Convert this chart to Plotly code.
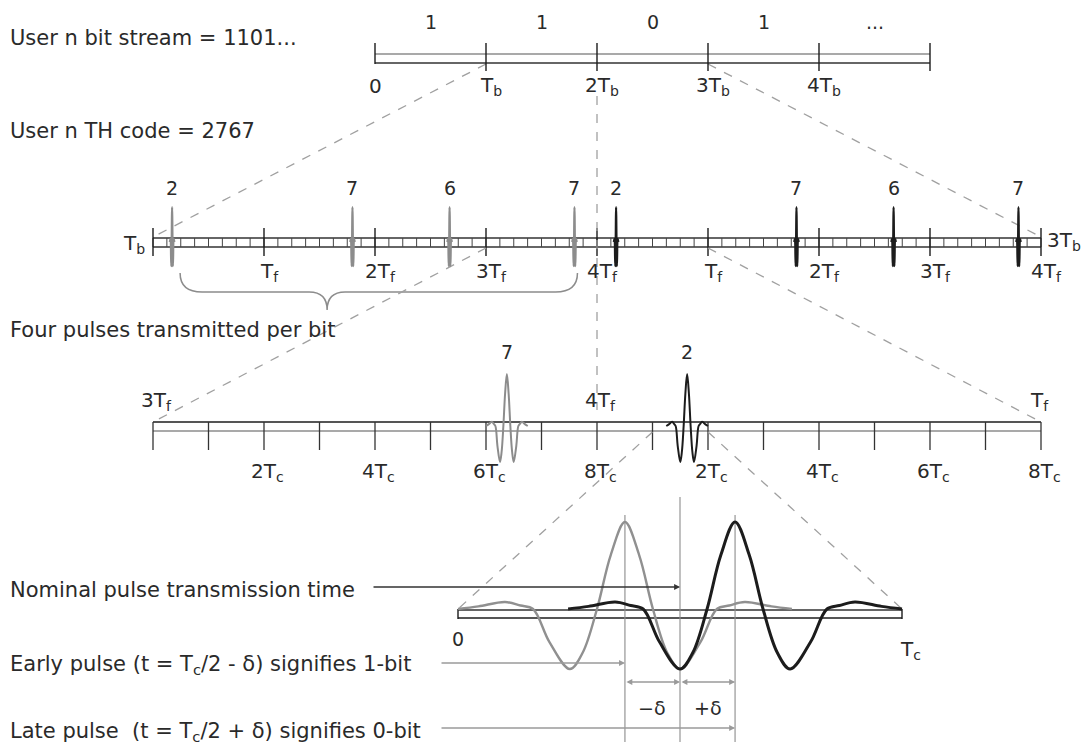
import plotly.graph_objects as go

W, H = 1088, 747

# ---------------- data ----------------
bit_stream = [1, 1, 0, 1]
bit_labels = ["1", "1", "0", "1", "..."]
bit_ticks = ["0", "T<sub>b</sub>", "2T<sub>b</sub>", "3T<sub>b</sub>", "4T<sub>b</sub>"]
th_code = [2, 7, 6, 7]
frame_ticks = ["T<sub>f</sub>", "2T<sub>f</sub>", "3T<sub>f</sub>", "4T<sub>f</sub>"]
chip_ticks = ["2T<sub>c</sub>", "4T<sub>c</sub>", "6T<sub>c</sub>", "8T<sub>c</sub>"]
zoom_frame_labels = ["3T<sub>f</sub>", "4T<sub>f</sub>", "T<sub>f</sub>"]
zoom_codes = [7, 2]        # pulses shown in the two-frame zoom
zoom_shift = [-1, 1]       # early (-delta) / late (+delta)
delta = 0.124              # PPM shift, in Tc
# pulse waveform: time (Tc) relative to peak, amplitude (peak = 1)
pulse_t = [-0.376, -0.33, -0.27, -0.235, -0.207, -0.17, -0.124, -0.095, -0.063, -0.032, 0.0,
           0.032, 0.063, 0.095, 0.124, 0.17, 0.207, 0.235, 0.27, 0.33, 0.376]
pulse_a = [0.0, 0.03, 0.08, 0.04, 0.0, -0.38, -0.69, -0.5, 0.0, 0.62, 1.0,
           0.62, 0.0, -0.5, -0.69, -0.38, 0.0, 0.04, 0.08, 0.03, 0.0]
frames_per_bit = 4
chips_per_frame = 8
n_bits_zoom = 2

txt_bits = "User n bit stream = " + "".join(str(b) for b in bit_stream) + "..."
txt_th = "User n TH code = " + "".join(str(c) for c in th_code)
txt_four = "Four pulses transmitted per bit"
txt_nominal = "Nominal pulse transmission time"
txt_early = "Early pulse (t = T<sub>c</sub>/2 - δ) signifies 1-bit"
txt_late = "Late pulse\u00a0 (t = T<sub>c</sub>/2 + δ) signifies 0-bit"

# ---------------- scales (pixel of value 0, pixels per unit) ----------------
AX = {"x": (375.0, 111.0),    # bit row, Tb units
      "x2": (153.0, 111.0),   # frame row, Tf units
      "x3": (153.0, 55.5),    # chip row, Tc units
      "x4": (458.0, 444.0)}   # single chip, Tc units
AY = {"y2": (242.0, 35.0), "y3": (426.0, 52.0), "y4": (609.0, 87.0)}


def px(ax, v):
    p0, s = AX[ax]
    return p0 + s * v


def val(ax, p):
    p0, s = AX[ax]
    return (p - p0) / s


TXT = "#2a2a2a"
GRAY = "#8c8c8c"
DARK = "#1c1c1c"
DASH = "#a0a0a0"
FONT = "DejaVu Sans"

fig = go.Figure()
shapes = []
anns = []


def line(x0, y0, x1, y1, xref="paper", color=DARK, width=1.3, dash="solid"):
    shapes.append(dict(type="line", xref=xref, yref="y", x0=x0, y0=y0, x1=x1, y1=y1,
                       line=dict(color=color, width=width, dash=dash), layer="below"))


def text(x, y, s, xref="paper", size=20, xanchor="center", xshift=0, color=TXT):
    anns.append(dict(x=x, y=y, xref=xref, yref="y", text=s, showarrow=False,
                     xanchor=xanchor, yanchor="middle", xshift=xshift,
                     font=dict(family=FONT, size=size, color=color)))


def pulse(xaxis, yaxis, center, tscale, color, width):
    xs = [center + t * tscale for t in pulse_t]
    fig.add_trace(go.Scatter(x=xs, y=pulse_a, xaxis=xaxis, yaxis=yaxis, mode="lines",
                             line=dict(color=color, width=width, shape="spline", smoothing=1.0),
                             hoverinfo="skip", showlegend=False))


# ---------------- left-hand texts ----------------
text(8 / W, 38, txt_bits, size=21, xanchor="left")
text(8 / W, 131, txt_th, size=21, xanchor="left")
text(8 / W, 330, txt_four, size=21, xanchor="left")
text(8 / W, 590, txt_nominal, size=21, xanchor="left")
text(8 / W, 665, txt_early, size=21, xanchor="left")
text(8 / W, 732, txt_late, size=21, xanchor="left")

# ---------------- row A: bit stream ----------------
nA = len(bit_labels)
line(0, 54, nA, 54, xref="x", color=GRAY, width=1.5)
line(0, 63, nA, 63, xref="x", color="#333333", width=1.5)
for k in range(nA + 1):
    line(k, 43, k, 64 if k == 0 else 71, xref="x", color=DARK, width=1.4)
for k, lab in enumerate(bit_labels):
    text(k + 0.5, 22, lab, xref="x", size=19)
for k, lab in enumerate(bit_ticks):
    text(k, 86, lab, xref="x", size=20, xshift=0 if k == 0 else 5)

# ---------------- row B: frames and chips of two bits ----------------
nF = frames_per_bit * n_bits_zoom
line(0, 238, nF, 238, xref="x2", color="#333333", width=1.3)
line(0, 247, nF, 247, xref="x2", color="#333333", width=1.3)
for c in range(nF * chips_per_frame + 1):
    line(c / chips_per_frame, 238, c / chips_per_frame, 247, xref="x2", color="#444444", width=1)
for f in range(nF + 1):
    line(f, 228, f, 256, xref="x2", color=DARK, width=1.4)
for f in range(1, nF + 1):
    text(f, 272, frame_ticks[(f - 1) % frames_per_bit], xref="x2", size=20, xshift=5)
text(147 / W, 244, "T<sub>b</sub>", size=20, xanchor="right")
text(1045 / W, 241, "3T<sub>b</sub>", size=20, xanchor="left")

for b in range(n_bits_zoom):
    sh = -1 if bit_stream[b] == 1 else 1
    col = GRAY if b == 0 else DARK
    for j, code in enumerate(th_code):
        f = b * frames_per_bit + j
        center = f + (code - 1 + 0.5 + sh * delta) / chips_per_frame
        pulse("x2", "y2", center, 0.45 / chips_per_frame, col, 2.2)
        text(center, 188, str(code), xref="x2", size=19)

# brace under the four pulses of the first bit
bL = px("x2", 0 + (th_code[0] - 0.5 - delta) / chips_per_frame) + 8
bR = px("x2", 3 + (th_code[3] - 0.5 - delta) / chips_per_frame) + 3
bM = bL + 0.37 * (bR - bL)
shapes.append(dict(type="path", xref="paper", yref="y", layer="below",
                   path=(f"M {bL/W},273 Q {bL/W},292 {(bL+22)/W},292 L {(bM-18)/W},292 "
                         f"Q {bM/W},292 {bM/W},310 Q {bM/W},292 {(bM+18)/W},292 "
                         f"L {(bR-22)/W},292 Q {bR/W},292 {bR/W},273"),
                   line=dict(color=GRAY, width=1.5)))

# ---------------- row C: two frames in chips ----------------
nC = 2 * chips_per_frame
line(0, 422, nC, 422, xref="x3", color=DARK, width=1.4)
line(0, 431, nC, 431, xref="x3", color=GRAY, width=1.5)
for c in range(nC + 1):
    line(c, 422, c, 450, xref="x3", color="#333333", width=1.3)
for c in range(2, nC + 1, 2):
    text(c, 472, chip_ticks[(c // 2 - 1) % 4], xref="x3", size=20, xshift=3)
for i, lab in enumerate(zoom_frame_labels):
    text(i * chips_per_frame, 401, lab, xref="x3", size=20, xshift=3 if i < 2 else -2)
for i, (code, sh) in enumerate(zip(zoom_codes, zoom_shift)):
    center = i * chips_per_frame + code - 1 + 0.5 + sh * delta
    pulse("x3", "y3", center, 1.0, GRAY if i == 0 else DARK, 2.0)
    text(center, 352, str(code), xref="x3", size=19)

# ---------------- row D: one chip ----------------
line(0, 610, 1, 610, xref="x4", color="#333333", width=1.4)
line(0, 618, 1, 618, xref="x4", color=DARK, width=1.4)
line(0, 609, 0, 619, xref="x4", color=DARK, width=1.4)
line(1, 609, 1, 619, xref="x4", color=DARK, width=1.4)
text(0, 639, "0", xref="x4", size=19)
text(1, 650, "T<sub>c</sub>", xref="x4", size=20, xshift=8)

line(0.5, 497, 0.5, 742, xref="x4", color=GRAY, width=1.1)
line(0.5 - delta, 515, 0.5 - delta, 742, xref="x4", color=GRAY, width=1.1)
line(0.5 + delta, 515, 0.5 + delta, 742, xref="x4", color=GRAY, width=1.1)

pulse("x4", "y4", 0.5 - delta, 1.0, "#909090", 2.4)
pulse("x4", "y4", 0.5 + delta, 1.0, DARK, 3.0)


def arrow(x_head, x_tail, y, color, side="end"):
    anns.append(dict(x=x_head, y=y, ax=x_tail, ay=y, xref="x4", yref="y", axref="x4", ayref="y",
                     text="", showarrow=True, arrowhead=2, arrowsize=0.9, arrowwidth=1.3,
                     arrowcolor=color, arrowside=side, standoff=0, startstandoff=0))


arrow(0.5, val("x4", 372), 587, "#333333")
arrow(0.5 - delta, val("x4", 440), 663, "#9a9a9a")
arrow(0.5 + delta, val("x4", 440), 728, "#9a9a9a")
arrow(0.5, 0.5 - delta, 682, "#9a9a9a", side="end+start")
arrow(0.5 + delta, 0.5, 682, "#9a9a9a", side="end+start")
text(0.5 - delta / 2, 708, "\u2212δ", xref="x4", size=19)
text(0.5 + delta / 2, 708, "+δ", xref="x4", size=19)

# ---------------- dashed zoom guides ----------------
def guide(ax0, v0, y0, ax1, v1, y1):
    line(px(ax0, v0) / W, y0, px(ax1, v1) / W, y1, color=DASH, width=1.3, dash="dash")


guide("x", 1, 64, "x2", 0, 237)
guide("x", 3, 64, "x2", nF, 237)
guide("x", 2, 96, "x", 2, 410)
guide("x2", 3, 248, "x3", 0, 422)
guide("x2", 5, 248, "x3", nC, 422)
guide("x3", 9, 432, "x4", 0, 609)
guide("x3", 10, 432, "x4", 1, 609)

# ---------------- layout ----------------
ax_common = dict(visible=False, fixedrange=True, domain=[0, 1])
layout = dict(width=W, height=H, margin=dict(l=0, r=0, t=0, b=0),
              paper_bgcolor="white", plot_bgcolor="white", showlegend=False,
              shapes=shapes, annotations=anns)
for i, k in enumerate(["x", "x2", "x3", "x4"]):
    name = "xaxis" if k == "x" else "xaxis" + k[1:]
    d = dict(ax_common, range=[val(k, 0), val(k, W)])
    if k != "x":
        d["overlaying"] = "x"
    layout[name] = d
layout["yaxis"] = dict(ax_common, range=[H, 0])
for k, (p0, s) in AY.items():
    layout["yaxis" + k[1:]] = dict(ax_common, range=[-(H - p0) / s, p0 / s], overlaying="y")

fig.update_layout(**layout)
fig.write_html("out.html", config={"displayModeBar": False},
               post_script="document.body.style.margin='0';document.body.style.overflow='hidden';")
